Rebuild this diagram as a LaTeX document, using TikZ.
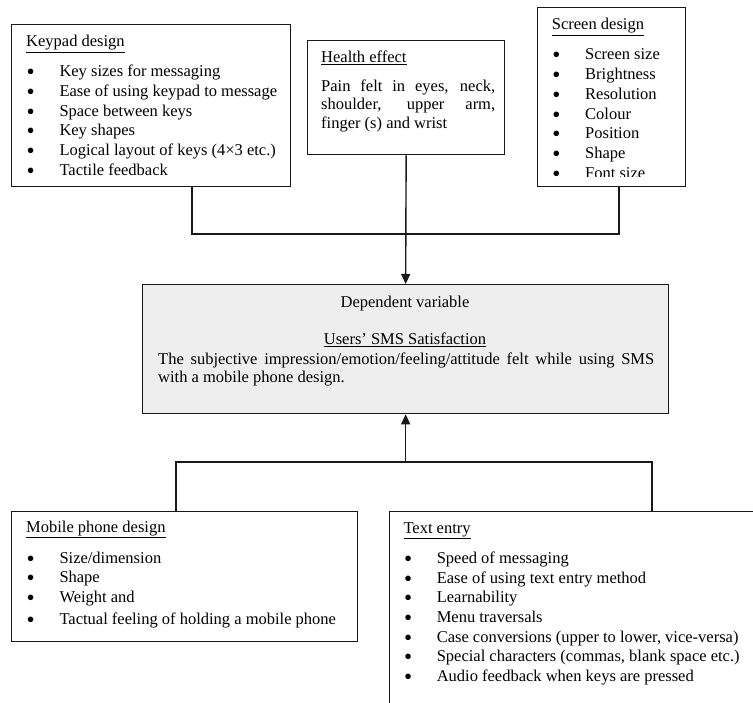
\documentclass[tikz,border=0pt]{standalone}
\usepackage{fontspec}
\usepackage{graphicx}
\setmainfont{Liberation Serif}
\usetikzlibrary{arrows.meta}
\newcommand{\bitem}{\makebox[33.3pt][l]{\hspace{0.5pt}\raisebox{-3pt}{\scalebox{1.4}{\textbullet}}}}
\begin{document}
\begin{tikzpicture}[x=1pt,y=-1pt,
  box/.style={draw=black!90, line width=1.3pt, anchor=north west, inner sep=0pt, fill=white},
  txt/.style={anchor=base west, inner sep=0pt},
  conn/.style={draw=black!90, line width=1.4pt},
  arr/.style={conn, -{Triangle[length=10pt,width=9pt]}},
  font=\fontsize{16.5}{19.7}\selectfont]
\useasboundingbox (0,0) rectangle (753,703);
\clip (0,0) rectangle (753,703);
\fill[white] (0,0) rectangle (753,703);

% boxes
\node[box, minimum width=279pt, minimum height=162pt] (kp) at (11,24) {};
\node[box, minimum width=197pt, minimum height=114pt] (he) at (307,40) {};
\node[box, minimum width=148pt, minimum height=179pt] (sc) at (537,7) {};
\node[box, minimum width=526pt, minimum height=129pt, fill={rgb,255:red,238;green,238;blue,238}] (dep) at (142,284) {};
\node[box, minimum width=346pt, minimum height=130pt] (mob) at (11,511) {};
\node[box, minimum width=400pt, minimum height=230pt] (te) at (389,511) {};

% connectors
\coordinate (j1) at (192,234);
\coordinate (j2) at (619,234);
\coordinate (b1) at (176,462);
\coordinate (b2) at (652,462);
\draw[conn] (kp.south -| j1) -- (j1) -- (j2) -- (sc.south -| j2);
\draw[arr] (he.south) -- (dep.north);
\draw[conn] (mob.north -| b1) -- (b1) -- (b2) -- (te.north -| b2);
\draw[arr] (dep.south |- b1) -- (dep.south);

% keypad design
\node[txt] (kph) at (26,47) {\underline{Keypad design}};
\node[txt] (kpl) at (26,76.7) {\begin{tabular}[t]{@{}l@{}}
\bitem Key sizes for messaging\\
\bitem Ease of using keypad to message\\
\bitem Space between keys\\
\bitem Key shapes\\
\bitem Logical layout of keys (4×3 etc.)\\
\bitem Tactile feedback
\end{tabular}};

% health effect
\node[txt] (heh) at (321,62.7) {\underline{Health effect}};
\node[txt] (het) at (321,91.7) {\parbox[t]{174pt}{\fontsize{16.5}{18.3}\selectfont
Pain felt in eyes, neck,\linebreak shoulder, upper arm,\linebreak finger (s) and wrist}};

% screen design
\node[txt] (sch) at (551.7,30) {\underline{Screen design}};
\begin{scope}
\clip (537,7) rectangle (685,177);
\node[txt] (scl) at (551.7,60) {\begin{tabular}[t]{@{}l@{}}
\bitem Screen size\\
\bitem Brightness\\
\bitem Resolution\\
\bitem Colour\\
\bitem Position\\
\bitem Shape\\
\bitem Font size
\end{tabular}};
\end{scope}

% dependent variable
\node[anchor=base, inner sep=0pt] (dv) at (405,307.8) {Dependent variable};
\node[anchor=base, inner sep=0pt] (us) at (405,344.6) {\underline{Users’ SMS Satisfaction}};
\node[txt] (dvt) at (158,364.6) {\parbox[t]{496pt}{\fontsize{16.5}{17.5}\selectfont
The subjective impression/emotion/feeling/attitude felt while using SMS\linebreak with a mobile phone design.}};

% mobile phone design
\node[txt] (mobh) at (26,532.7) {\underline{Mobile phone design}};
\node[txt] (mobl) at (26,563) {\begin{tabular}[t]{@{}l@{}}
\bitem Size/dimension\\
\bitem Shape\\
\bitem Weight and\\[2.6pt]
\bitem Tactual feeling of holding a mobile phone
\end{tabular}};

% text entry
\node[txt] (teh) at (403.3,533) {\underline{Text entry}};
\node[txt] (tel) at (403.3,563.3) {\begin{tabular}[t]{@{}l@{}}
\bitem Speed of messaging\\
\bitem Ease of using text entry method\\
\bitem Learnability\\
\bitem Menu traversals\\
\bitem Case conversions (upper to lower, vice-versa)\\
\bitem Special characters (commas, blank space etc.)\\
\bitem Audio feedback when keys are pressed
\end{tabular}};
\end{tikzpicture}
\end{document}
